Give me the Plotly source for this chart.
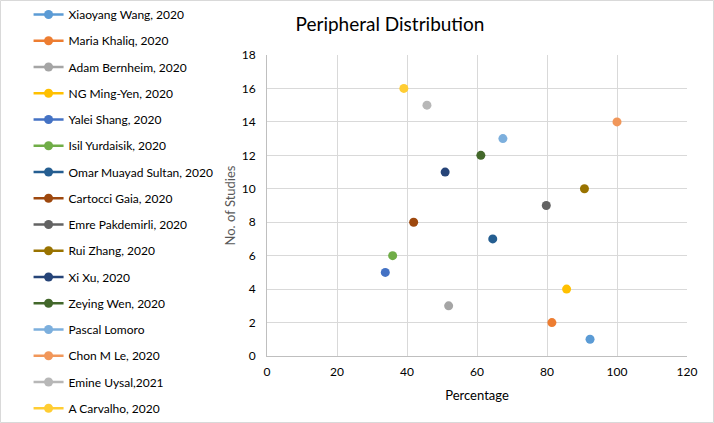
import plotly.graph_objects as go

studies = ["Xiaoyang Wang, 2020", "Maria Khaliq, 2020", "Adam Bernheim, 2020", "NG Ming-Yen, 2020",
           "Yalei Shang, 2020", "Isil Yurdaisik, 2020", "Omar Muayad Sultan, 2020", "Cartocci Gaia, 2020",
           "Emre Pakdemirli, 2020", "Rui Zhang, 2020", "Xi Xu, 2020", "Zeying Wen, 2020",
           "Pascal Lomoro", "Chon M Le, 2020", "Emine Uysal,2021", "A Carvalho, 2020"]
percentage = [92.3, 81.4, 51.9, 85.6, 33.8, 35.9, 64.5, 41.9, 79.8, 90.7, 50.9, 61.1, 67.4, 100, 45.7, 39.1]
no_of_studies = [1, 2, 3, 4, 5, 6, 7, 8, 9, 10, 11, 12, 13, 14, 15, 16]
colors = ["#5B9BD5", "#ED7D31", "#A5A5A5", "#FFC000", "#4472C4", "#70AD47", "#255E91", "#9E480E",
          "#636363", "#997300", "#264478", "#43682B", "#7CAFDD", "#F1975A", "#B7B7B7", "#FFCD33"]

fig = go.Figure()
for name, xv, yv, c in zip(studies, percentage, no_of_studies, colors):
    fig.add_trace(go.Scatter(x=[xv], y=[yv], name=name, mode="lines+markers",
                             legendgroup=name,
                             marker=dict(color=c, size=9), line=dict(color=c, width=2.5)))

font = "Lato, Open Sans, sans-serif"
fig.update_layout(
    width=714, height=423,
    margin=dict(l=267, r=27, t=55, b=67),
    paper_bgcolor="white", plot_bgcolor="white",
    font=dict(family=font, size=12, color="#595959"),
    title=dict(text="Peripheral Distribution", x=390/714, xanchor="center", y=1 - 24/423, yanchor="middle",
               font=dict(size=19, color="#000000", family=font)),
    legend=dict(xref="container", yref="container", x=0.04, y=1.005, xanchor="left", yanchor="top",
                font=dict(size=12, color="#000000", family=font), tracegroupgap=7.25,
                itemwidth=30, bgcolor="rgba(0,0,0,0)", maxheight=1000),
    xaxis=dict(range=[0, 120], dtick=20, showgrid=True, gridcolor="#D9D9D9", gridwidth=1,
               showline=True, linecolor="#BFBFBF", zeroline=False, ticks="", ticklabelstandoff=5,
               title=dict(text="Percentage", font=dict(size=13, color="#000000"), standoff=12),
               tickfont=dict(size=12, color="#000000")),
    yaxis=dict(range=[0, 18], dtick=2, showgrid=True, gridcolor="#D9D9D9", gridwidth=1,
               showline=True, linecolor="#BFBFBF", zeroline=False, ticks="", ticklabelstandoff=8,
               title=dict(text="No. of Studies", font=dict(size=13, color="#595959"), standoff=3),
               tickfont=dict(size=12, color="#000000")),
    shapes=[dict(type="rect", xref="paper", yref="paper", x0=-266.5/420, x1=(713.5-267)/420,
                 y0=-66.5/301, y1=(301+54.5)/301, line=dict(color="#D9D9D9", width=1), fillcolor="rgba(0,0,0,0)",
                 layer="below")],
)
fig.write_html("out.html", post_script="document.body.style.margin='0';",
               config={"displayModeBar": False})
